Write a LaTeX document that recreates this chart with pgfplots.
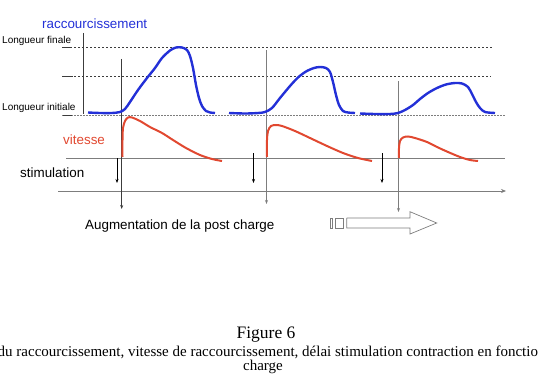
\documentclass[border=0pt]{standalone}
\usepackage{pgfplots}
\pgfplotsset{compat=1.18}
\usepackage{fontspec}
\setmainfont{Liberation Sans}
\newfontfamily\seriffont{Liberation Serif}
\usetikzlibrary{arrows.meta}
\definecolor{cblue}{RGB}{35,48,215}
\definecolor{cred}{RGB}{225,72,48}
\definecolor{cgray}{RGB}{125,125,125}
\definecolor{cdark}{RGB}{60,60,60}
\begin{document}
\begin{tikzpicture}
\begin{axis}[
  width=538bp, height=384bp, scale only axis,
  xmin=0, xmax=538, ymin=0, ymax=384, y dir=reverse,
  axis lines=none, clip=true,
]
% reference levels
\addplot[cdark, line width=0.5bp, dash pattern=on 2bp off 2bp] coordinates {(62,47) (492,47)};
\addplot[cdark, line width=0.5bp, dash pattern=on 2bp off 2bp] coordinates {(62,76) (491,76)};
\addplot[cgray, line width=0.6bp, dash pattern=on 1.5bp off 1.5bp] coordinates {(62,115) (505,115)};
\addplot[cdark, line width=0.8bp] coordinates {(63,47) (72,47)};
\addplot[cdark, line width=0.8bp] coordinates {(63,76) (73,76)};
\addplot[cdark, line width=0.8bp] coordinates {(63,115) (72,115)};
% vertical axis of length
\addplot[cdark, line width=0.7bp] coordinates {(83.3,33) (83.3,114)};
% vitesse baseline and stimulation axis
\addplot[cgray, line width=0.7bp] coordinates {(66,158) (505,158)};
\addplot[cgray, line width=0.7bp, -{Stealth[length=5bp,width=4bp]}] coordinates {(58,191) (506,191)};
% long vertical markers
\addplot[cdark, line width=0.6bp, -{Stealth[length=4bp,width=3bp]}] coordinates {(121.7,59) (121.7,209)};
\addplot[cgray, line width=0.9bp, -{Stealth[length=4bp,width=3bp]}] coordinates {(266.5,50) (266.5,204)};
\addplot[cgray, line width=0.9bp, -{Stealth[length=4bp,width=3bp]}] coordinates {(398.5,81) (398.5,212)};
% stimulation arrows
\addplot[black, line width=0.6bp, -{Stealth[length=4bp,width=3bp]}] coordinates {(117,158) (117,183)};
\addplot[black, line width=0.6bp, -{Stealth[length=4bp,width=3bp]}] coordinates {(253.5,153) (253.5,183)};
\addplot[black, line width=0.6bp, -{Stealth[length=4bp,width=3bp]}] coordinates {(382,153) (382,183)};
% shortening curves
\addplot[cblue, line width=2.4bp, smooth, tension=0.5] coordinates {
 (88,112.5)(100,113)(112,113)(120,112)(125,109)(130,102)(138,90)(147,78)(155,68)(162,58)(170,50.5)(176,47.5)(182,47.5)(187,50)(190,56)(193,68)(196,85)(199,98)(202,106)(206,111)(210,112.5)(215,113)};
\addplot[cblue, line width=2.4bp, smooth, tension=0.5] coordinates {
 (229,113)(245,113.5)(258,113)(265,112)(272,108)(280,98)(290,86)(298,77.5)(306,71.5)(314,68)(320,67)(326,68)(330,72)(333,82)(336,95)(339,105)(343,111)(348,112.5)(355,113)};
\addplot[cblue, line width=2.4bp, smooth, tension=0.5] coordinates {
 (360,113.5)(375,114)(390,114)(398,113)(405,110)(413,105)(420,99)(428,93)(437,88)(446,84.5)(455,83)(462,83.5)(468,87)(472,94)(476,102)(480,108)(485,112)(495,113)};
% velocity curves
\addplot[cred, line width=2bp, smooth, tension=0.5] coordinates {
 (122.5,157)(122.5,140)(123,128)(125,121)(128,117.5)(132,117.5)(140,121)(150,127)(162,133)(173,140)(186,148)(200,155)(212,159)(222,161)};
\addplot[cred, line width=2bp, smooth, tension=0.5] coordinates {
 (267,157)(267,140)(268,131)(271,126)(276,125)(282,126)(295,131)(310,138)(327,146)(343,153)(358,158)(372,161)};
\addplot[cred, line width=2bp, smooth, tension=0.5] coordinates {
 (399,158)(399,148)(400,141)(403,137.5)(408,136.5)(415,138)(427,142)(437,147)(448,152)(460,157)(470,160)(478,161)};
% big hollow arrow
\addplot[cgray, line width=0.7bp] coordinates {(330,218)(332.7,218)(332.7,228)(330,228)(330,218)};
\addplot[cgray, line width=0.7bp] coordinates {(335,218)(343,218)(343,228)(335,228)(335,218)};
\addplot[cgray, line width=0.7bp] coordinates {(346.7,218)(410,218)(410,211.7)(436.7,223)(410,234)(410,228)(346.7,228)(346.7,218)};
% labels
\node[anchor=base west, text=cblue, font=\fontsize{13.4bp}{15bp}\selectfont, inner sep=0pt] at (axis cs:42,29) {raccourcissement};
\node[anchor=base west, font=\fontsize{10bp}{12bp}\selectfont, inner sep=0pt] at (axis cs:2,43) {Longueur finale};
\node[anchor=base west, font=\fontsize{10bp}{12bp}\selectfont, inner sep=0pt] at (axis cs:2,110.7) {Longueur initiale};
\node[anchor=base west, text=cred, font=\fontsize{13.4bp}{15bp}\selectfont, inner sep=0pt] at (axis cs:63,144) {vitesse};
\node[anchor=base west, font=\fontsize{13.4bp}{15bp}\selectfont, inner sep=0pt] at (axis cs:20,177) {stimulation};
\node[anchor=base west, font=\fontsize{13.4bp}{15bp}\selectfont, inner sep=0pt] at (axis cs:85,229) {Augmentation de la post charge};
% caption
\node[anchor=base, font=\seriffont\fontsize{17.5bp}{19bp}\selectfont, inner sep=0pt] at (axis cs:266,338) {Figure 6};
\node[anchor=base west, font=\seriffont\fontsize{15bp}{16bp}\selectfont, inner sep=0pt] at (axis cs:-2.5,356) {du raccourcissement, vitesse de raccourcissement, délai stimulation contraction en fonction de la post};
\node[anchor=base, font=\seriffont\fontsize{15bp}{16bp}\selectfont, inner sep=0pt] at (axis cs:263,370.5) {charge};
\end{axis}
\pgfresetboundingbox
\useasboundingbox (current axis.south west) rectangle (current axis.north east);
\end{tikzpicture}
\end{document}
